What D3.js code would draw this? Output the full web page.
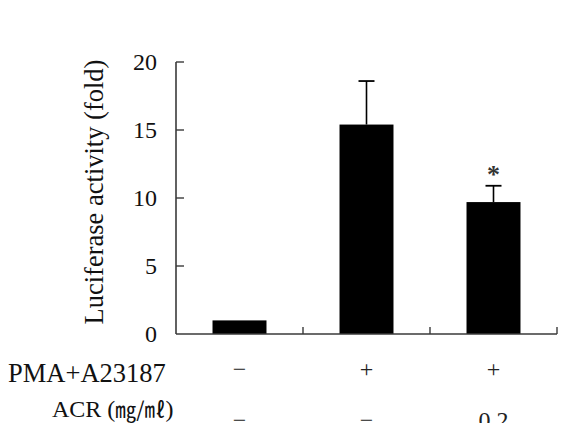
<!DOCTYPE html>
<html>
<head>
<meta charset="utf-8">
<script src="https://cdn.jsdelivr.net/npm/d3@7"></script>
<style>
    html, body { margin: 0; padding: 0; background: #fff; }
    svg { display: block; }
</style>
</head>
<body>
<div id="chart"></div>
<script>
// treatment groups
const groups = ["control", "pma", "pma_acr"];
const pmaRow = ["\u2212", "+", "+"];
const acrRow = ["\u2212", "\u2212", "0.2"];

// luciferase fold values and upper error
const values = [1.0, 15.4, 9.7];
const errors = [0, 3.2, 1.2];
const marks = ["", "", "*"];

const yTicks = [0, 5, 10, 15, 20];

const width = 563;
const height = 423;
const axisColor = "#3a3a3a";
const serif = "'Liberation Serif', 'Times New Roman', serif";

const svg = d3.select("#chart")
    .append("svg")
    .attr("width", width)
    .attr("height", height);

const x = d3.scaleBand()
    .domain(groups)
    .range([176, 557])
    .paddingInner(0.575)
    .paddingOuter(0.2875);

const y = d3.scaleLinear()
    .domain([0, 20])
    .range([334, 62]);

const cx = g => x(g) + x.bandwidth() / 2;

// bars
svg.selectAll("rect.bar")
    .data(groups)
    .enter()
    .append("rect")
    .attr("class", "bar")
    .attr("x", g => x(g))
    .attr("width", x.bandwidth())
    .attr("y", (g, i) => y(values[i]))
    .attr("height", (g, i) => y(0) - y(values[i]))
    .attr("fill", "#000");

// error bars (upper only)
const errGroups = groups.filter((g, i) => errors[i] > 0);
const errIndex = g => groups.indexOf(g);

svg.selectAll("line.err")
    .data(errGroups)
    .enter()
    .append("line")
    .attr("x1", cx)
    .attr("x2", cx)
    .attr("y1", g => y(values[errIndex(g)]))
    .attr("y2", g => y(values[errIndex(g)] + errors[errIndex(g)]))
    .attr("stroke", "#000")
    .attr("stroke-width", 1.6);

svg.selectAll("line.cap")
    .data(errGroups)
    .enter()
    .append("line")
    .attr("x1", g => cx(g) - 8)
    .attr("x2", g => cx(g) + 8)
    .attr("y1", g => y(values[errIndex(g)] + errors[errIndex(g)]))
    .attr("y2", g => y(values[errIndex(g)] + errors[errIndex(g)]))
    .attr("stroke", "#000")
    .attr("stroke-width", 1.8);

// significance marks
svg.selectAll("text.sig")
    .data(groups)
    .enter()
    .append("text")
    .attr("x", cx)
    .attr("y", (g, i) => y(values[i] + errors[i]) - 3)
    .attr("text-anchor", "middle")
    .style("font-family", serif)
    .style("font-size", "26px")
    .style("font-weight", "bold")
    .attr("fill", "#333")
    .text((g, i) => marks[i]);

// y axis
const yAxis = svg.append("g");
yAxis.append("line")
    .attr("x1", 176).attr("x2", 176)
    .attr("y1", y(20)).attr("y2", y(0))
    .attr("stroke", axisColor)
    .attr("stroke-width", 1.6);
yAxis.selectAll("line.tick")
    .data(yTicks.filter(t => t > 0))
    .enter()
    .append("line")
    .attr("x1", 176).attr("x2", 184)
    .attr("y1", d => y(d)).attr("y2", d => y(d))
    .attr("stroke", axisColor)
    .attr("stroke-width", 1.4);
yAxis.selectAll("text")
    .data(yTicks)
    .enter()
    .append("text")
    .attr("x", 157)
    .attr("y", d => y(d))
    .attr("dy", "0.34em")
    .attr("text-anchor", "end")
    .style("font-family", serif)
    .style("font-size", "24px")
    .attr("fill", "#111")
    .text(d => d);

// x axis with ticks at band edges
const edges = groups.map(g => x(g) - x.step() * x.paddingInner() / 2 + x.step());
svg.append("line")
    .attr("x1", 176).attr("x2", 557)
    .attr("y1", y(0)).attr("y2", y(0))
    .attr("stroke", axisColor)
    .attr("stroke-width", 1.6);
svg.selectAll("line.xtick")
    .data(edges)
    .enter()
    .append("line")
    .attr("x1", d => d).attr("x2", d => d)
    .attr("y1", y(0)).attr("y2", y(0) - 7)
    .attr("stroke", axisColor)
    .attr("stroke-width", 1.4);

// y axis title
svg.append("text")
    .attr("transform", "translate(103,192) rotate(-90)")
    .attr("text-anchor", "middle")
    .style("font-family", serif)
    .style("font-size", "26.5px")
    .attr("fill", "#111")
    .text("Luciferase activity (fold)");

// treatment table
svg.append("text")
    .attr("x", 8)
    .attr("y", 382)
    .style("font-family", serif)
    .style("font-size", "26.5px")
    .attr("fill", "#111")
    .text("PMA+A23187");

svg.selectAll("text.pma")
    .data(groups)
    .enter()
    .append("text")
    .attr("x", cx)
    .attr("y", 377)
    .attr("text-anchor", "middle")
    .style("font-family", serif)
    .style("font-size", "24px")
    .attr("fill", "#222")
    .text((g, i) => pmaRow[i]);

const acrLabel = svg.append("text")
    .attr("x", 52)
    .attr("y", 417)
    .style("font-family", serif)
    .style("font-size", "24px")
    .attr("fill", "#111");
acrLabel.append("tspan").text("ACR (");
acrLabel.append("tspan")
    .style("font-family", "'Noto Sans CJK KR', sans-serif")
    .style("font-size", "21px")
    .text("\u338E/\u3396");
acrLabel.append("tspan").text(")");

svg.selectAll("text.acr")
    .data(groups)
    .enter()
    .append("text")
    .attr("x", cx)
    .attr("y", 428)
    .attr("text-anchor", "middle")
    .style("font-family", serif)
    .style("font-size", "24px")
    .attr("fill", "#222")
    .text((g, i) => acrRow[i]);
</script>
</body>
</html>
